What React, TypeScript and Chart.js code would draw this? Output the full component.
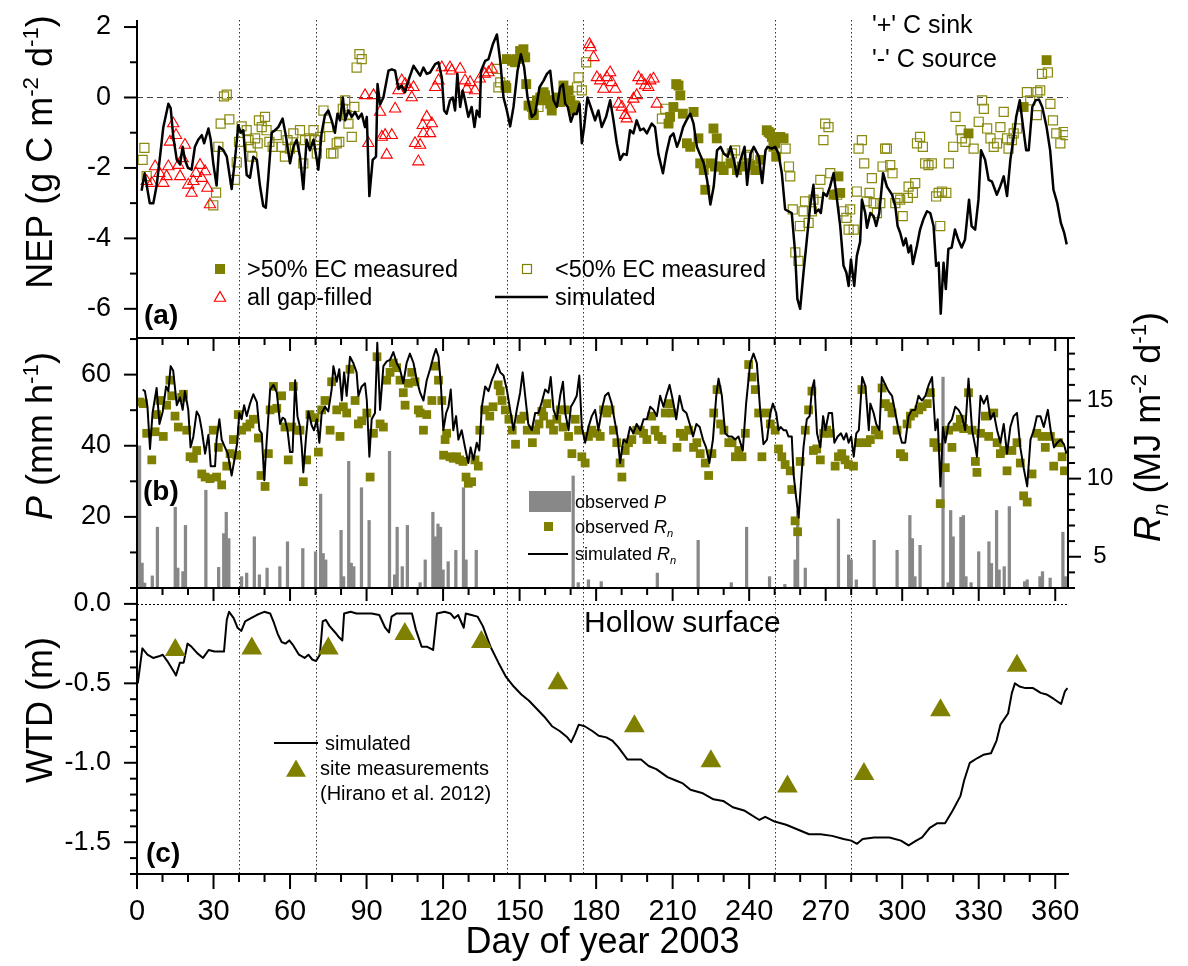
import React, { useEffect, useRef } from "react";
import { Chart, registerables } from "chart.js";

Chart.register(...registerables);

// ---------------- data: panel (a) NEP ----------------
const nepSimDay = [1.8,3,5,6.4,7.7,9,10.3,12.3,13.2,14.2,15.6,16.9,17.9,18.8,20,21.4,22.7,24,25.4,26.3,28,28.9,29.9,31.2,32.2,33.9,35.2,37.1,38.4,39.7,40.7,41.7,43,44.3,45.6,47,48.2,49.5,50.5,51.5,52.8,54.1,55.4,57.1,58.4,60,61.3,62.6,63.9,65.2,66.5,67.8,69.2,70.5,71.1,72.4,73.7,75,76.3,77.6,78.6,79.6,80.7,81.6,82.9,84.2,85.5,86.8,88.1,89.4,90.1,91.1,92.4,93.7,94.3,95.3,96.6,97.9,98.6,99.9,101.2,102.5,103.8,105.1,106.4,108.4,109.7,111,112.3,113.6,114.9,116.9,118.2,119.5,120.4,121.4,122.7,123.8,124.7,125.6,126.7,127.7,128.6,129.9,131.2,132.3,133.2,134.3,134.9,136.5,137.8,139.5,141.1,142.4,143.7,145,146.3,147.6,149.2,150.5,151.8,153.1,154.8,156.1,157.8,159.4,160.7,162,163.3,164.6,165.9,167,167.9,168.9,170.1,171.2,172.4,173.5,174.4,175.3,176.6,177.9,179.6,180.9,182.2,183.9,185.5,186.8,188.1,189.4,190.7,192,193.3,194.6,195.9,197.3,198.6,199.9,201.8,203.1,204.4,206.2,207.5,209,210.3,211.7,212.7,214.1,215.4,216.9,218.2,219.5,220.8,222.2,223.5,224.8,226.1,227.4,228.8,230.1,231.6,232.7,234,235.2,236.6,238.2,239.2,240.5,241.8,243.8,245.1,246.4,247.2,248.9,250.2,251.5,252.8,254.1,255.4,256.7,258,258.9,260,261.3,262.6,263.9,265.2,265.9,267.2,268.1,269.1,270.4,271.7,273.1,274.1,275.7,277,278.1,279,279.9,281.2,282.2,283.5,284.2,285.5,286.2,287.5,288.8,289.8,291,292.5,294,296,297.3,298.2,299.2,300.5,301.4,302.5,303.4,304.2,305.8,307,308.3,309.7,311,312.3,313.3,314.3,315.1,316.2,317.1,318.1,319.4,320.7,322,323.3,324.6,326.2,327.2,328.6,329.9,330.9,332.5,333.9,335.2,337.1,338.4,339.8,341.1,342.4,343.7,344.7,346.1,347.4,348.6,349.6,351,352.3,353.6,354.9,356.6,358,359.3,360.8,362.2,363.5,364.5];
const nepSimVal = [-2.65,-2.15,-3.0,-3.0,-2.5,-1.7,-0.85,-0.18,-0.3,-1.1,-1.77,-1.9,-1.4,-1.77,-2.0,-2.05,-1.4,-1.2,-1.07,-1.3,-0.88,-1.2,-1.87,-2.5,-1.4,-1.5,-1.68,-2.6,-1.77,-0.79,-1.0,-0.93,-2.2,-2.28,-1.68,-1.77,-2.5,-3.08,-3.13,-2.25,-1.0,-0.93,-0.84,-0.6,-1.1,-1.87,-1.4,-1.2,-1.68,-2.6,-1.2,-1.5,-1.2,-1.77,-2.05,-1.0,-0.5,-0.37,-0.65,-1.0,-0.46,-0.65,0,-0.65,-0.37,-0.55,-0.41,-0.6,-0.46,-0.84,-0.55,-2.8,-1.77,-1.68,0.38,-0.2,0.0,0.5,0.76,0.8,0.76,0.24,0.34,0.15,0.48,0.9,0.76,0.62,0.85,0.67,0.71,0.95,1.0,0.57,-0.37,-0.46,-0.08,0,-0.37,0.67,-0.27,0.2,-0.08,-0.55,-0.27,-0.84,-0.37,-0.55,0.76,1.04,1.09,1.51,1.79,1.04,0,-0.37,-0.82,-0.27,0.76,1.23,0.85,0,-0.55,-0.46,0.29,0.48,0.67,0.76,-0.08,-0.27,0.29,0.38,-0.18,-0.27,-0.69,-0.46,-0.46,-0.18,-1.3,-0.84,0,-0.27,-0.65,-0.37,-0.84,-0.55,-0.08,-0.65,-1.3,-1.77,-1.6,-1.63,-0.93,-1.02,-0.65,-0.93,-0.88,-1.02,-0.74,-0.84,-1.6,-2.15,-1.6,-1.12,-1.02,-1.4,-1.21,-0.84,-0.65,-0.46,-0.74,-1.4,-1.63,-1.87,-2.34,-3.04,-2.53,-1.5,-1.4,-1.6,-1.68,-1.4,-1.77,-2.24,-1.77,-1.4,-2.48,-1.6,-1.4,-1.68,-2.43,-1.5,-1.4,-1.45,-1.4,-1.6,-2.15,-3.18,-3.23,-3.28,-4.4,-5.72,-6.0,-4.97,-4.04,-3.09,-2.48,-3.28,-3.18,-3.28,-2.71,-2.8,-2.53,-2.15,-2.71,-3.65,-4.78,-4.97,-5.35,-4.6,-5.35,-4.5,-4.1,-2.9,-3.28,-3.7,-3.28,-3.37,-3.65,-3.28,-2.15,-2.53,-2.76,-3.09,-3.65,-3.84,-4.2,-4.0,-4.4,-4.2,-4.73,-4.2,-3.75,-3.46,-3.23,-3.28,-3.65,-4.78,-4.69,-6.14,-4.69,-5.44,-4.3,-4.26,-3.75,-4.04,-4.26,-4.04,-2.9,-3.65,-3.75,-2.9,-1.5,-1.77,-2.34,-2.39,-2.76,-2.53,-2.24,-2.8,-1.77,-1.12,-0.55,-0.08,-0.84,-1.5,-1.5,-0.27,-0.08,-0.06,-0.27,-0.84,-1.5,-2.62,-3.0,-3.56,-3.84,-4.17];

const ecHighDay = [144.4,144.8,145,147,148.2,148.9,150.2,150.9,151.5,152.2,152.6,153.5,154.8,155.5,156.8,158.1,159.4,160,160.7,162,162.6,164,165.2,165.9,167.2,167.9,169.2,169.9,170.9,171.8,208.4,209,210.3,211.4,212.3,213,214,215.6,216.9,218.2,220.1,220.8,222.2,222.8,224.8,226,226.6,227.3,228.7,230,232.7,235.2,237.1,240.4,242.4,244.3,246.9,247.6,248.2,248.9,249.5,250.2,250.6,250.9,252.2,253.5,273.1,275,275.7,326,347.6,356.6];
const ecHighVal = [0.34,0.27,1.09,1.04,1.0,1.09,1.32,1.18,1.37,1.14,0.38,-0.23,-0.27,-0.5,-0.08,0,0.15,0.06,-0.08,-0.18,-0.37,-0.08,0,-0.13,0.34,0.1,0.2,-0.08,-0.37,-0.23,-0.74,-0.55,-0.27,0.38,0.34,0.06,-0.46,-1.3,-1.4,-0.41,-1.16,-1.87,-2.06,-2.62,-1.87,-0.88,-1.96,-1.16,-1.96,-2.06,-1.87,-2.06,-1.96,-1.92,-2.06,-1.77,-0.93,-0.98,-1.02,-1.12,-1.4,-1.3,-1.68,-1.12,-1.12,-1.16,-2.76,-2.24,-2.71,-1.02,-0.27,1.06];

const ecLowDay = [2.2,2.9,3.8,29.9,31,31.9,32.8,34.1,35.2,36.2,38.4,39.1,40,41,43,43.7,44.6,45.2,46.3,47.3,47.8,48.9,50.2,50.8,51.9,53.2,54.8,56.7,58,59,60,61.3,61.9,63.9,65.2,65.9,67.6,69.2,69.8,70.5,71.8,73.1,75,76.1,77,78.3,79.3,80.7,81.6,82.2,82.9,84.2,85.2,86.1,87.2,88.1,141,141.7,142.4,155.4,157.4,171.1,172.5,173.1,174.4,176.1,205.8,207.1,231.2,233.2,234.5,238.4,239.1,239.8,254.3,255.6,256.1,257.1,258.1,259.3,259.9,261.3,261.9,263.3,264.6,265.2,267.2,267.9,269.1,269.8,271.1,271.8,274.5,277,278.1,279,279.6,281,282.2,282.9,284.2,285.1,286.1,287.2,288.1,288.8,290.1,291.4,292.3,293.3,294,295.3,296.2,297.3,298.2,299.2,300.2,302.2,302.5,304.2,305.1,305.8,307,308.1,309,310.3,311.6,313.3,314.3,314.9,315.6,317.3,318.3,320,320.9,322.9,323.4,324.8,328,330,331.3,332,333.3,334.6,335.9,337.2,338.5,339.8,341.1,341.7,343,343.7,345,348.9,350.2,352.8,353,354.1,354.8,357.1,358.1,359.1,360.4,362,363.3,364];
const ecLowVal = [-1.77,-1.43,-2.23,-3.06,-2.7,-1.4,-0.74,0.03,0.08,-0.62,-2.34,-1.84,-1.26,-0.82,-0.93,-1.21,-1.4,-1.68,-1.16,-1.3,-0.65,-0.84,-0.55,-0.93,-1.26,-1.4,-1.07,-1.4,-1.68,-1.21,-1.45,-1.02,-1.4,-0.93,-1.87,-1.21,-1.16,-0.93,-1.21,-1.59,-1.12,-0.37,-0.84,-1.59,-1.59,-1.3,-1.26,-0.32,-0.08,-0.5,-0.74,-1.12,-0.27,0.85,1.23,1.09,0.81,0.29,0.43,-0.46,-0.27,-0.23,0.29,0.57,0.2,1.0,-0.6,-0.32,-1.73,-1.59,-1.5,-1.87,-1.68,-1.63,-1.45,-1.96,-2.24,-3.18,-4.4,-4.64,-3.65,-3.23,-2.95,-3.56,-3.23,-2.9,-2.71,-2.34,-1.21,-0.74,-0.84,-2.15,-2.76,-3.23,-3.42,-3.75,-3.18,-3.75,-2.67,-1.45,-1.21,-1.87,-2.95,-2.71,-2.29,-3.0,-3.28,-3.0,-1.96,-1.45,-1.45,-1.92,-2.15,-3.0,-2.85,-2.9,-3.37,-2.85,-2.53,-2.71,-2.43,-1.3,-1.12,-1.4,-1.87,-1.92,-1.87,-2.81,-2.71,-3.65,-2.67,-2.71,-1.87,-1.4,-0.55,-0.93,-1.16,-1.26,-1.45,-0.69,-0.08,-0.32,-0.88,-1.16,-1.4,-1.3,-0.84,-0.41,-1.16,-1.45,-1.21,-1.02,-0.88,0.15,-0.08,-0.5,0.15,0.2,0.67,0.71,-0.18,-0.65,-1.02,-1.3,-0.98,-1.07];

const gapDay = [3.8,5.8,7.1,8.8,10.3,11.6,12.3,12.9,14.2,15.3,16.2,16.9,17.9,18.8,20.1,21.4,22.1,23.1,24.7,25.4,26.7,27.6,28.6,89.4,90.7,92.7,95.3,96,97.3,97.9,99.9,101.2,102.5,103.8,105.1,106.4,107.7,108.4,109,110.3,111,112,112.3,113.6,114.9,115.6,116.9,118.2,119.5,122.7,123.4,126.7,128.6,129.3,130.6,132.5,134.4,136.3,137.8,139.1,177.4,177.9,179,180.3,181.6,182.9,184.2,185.5,186.1,187.5,188.8,190.1,191.4,192,193.3,194.6,195.9,196.6,197.9,199.2,200.5,201.2,202.5,203.8];
const gapVal = [-2.38,-2.43,-1.96,-2.15,-2.43,-2.24,-1.96,-1.26,-0.74,-1.07,-1.92,-2.24,-1.73,-1.35,-2.48,-2.71,-2.38,-2.15,-1.92,-2.29,-2.1,-2.57,-3.04,0.06,-1.3,0.06,-0.41,-1.12,-1.07,-1.63,-1.07,-0.32,0.2,0.48,0.38,0.29,0,0.29,-1.3,-1.82,-1.35,-0.79,-1.02,-0.55,-1.02,-0.74,0.29,0.48,0.85,0.85,0.76,0.81,0.48,0.24,0.43,0.2,0.53,0.67,0.71,0.81,1.51,1.42,1.14,0.57,0.48,0.24,0.57,0.71,0.43,0.24,-0.18,-0.27,-0.5,-0.6,-0.32,-0.04,0.06,0.57,0.48,0.34,0.29,0.48,0.53,-0.18];

// ---------------- data: panel (b) P and Rn ----------------
const precipDay = [1,2,3,6,8,15,16,18,19,27,32,34,35,36,41,43,46,48,51,56,59,65,70,72,73,74,80,81,83,84,85,88,91,99,101,102,104,106,111,113,116,117,118,119,120,122,125,128,129,133,171,173,177,182,204,220,233,239,248,254,258,259,262,275,279,280,282,289,298,303,304,305,307,316,318,319,320,323,324,325,327,330,334,335,337,338,340,342,348,349,354,355,358,363,364];
const precipVal = [40,7,1.4,3.4,17.1,22.7,5.6,4.6,17.6,27.5,5.8,15.3,21.3,13.9,3.2,4.2,14.4,3.7,5.6,6,13,11.1,10.2,26.4,9.7,7.9,16.2,3.2,35.6,7,6,28.2,19,38.4,3.7,17.1,6,17.6,1.5,7.9,21.3,14.4,18,17.1,5.1,7.4,10.6,28.2,7.9,10.6,31.5,1.5,2.3,1.8,4.2,13.4,1.5,17.1,3.2,1,7.9,21.8,5.6,19.4,9.3,7.9,2.3,13.4,10.6,20.4,13.9,3.2,12,59.3,1.5,21.8,14.4,19.9,20.4,3.2,1.5,10.2,13,6.9,21.8,5.1,6,22.9,1.8,2.3,3.2,4.6,2.8,15.7,3.2];

const rnSimDay = [2.2,3.1,4.1,5.1,6.1,7.7,8.8,10.1,11.4,12.3,13.2,14.2,15.6,16.9,17.9,18.8,20.1,21,22.1,23.4,24.4,25.4,26.7,28,28.9,30.6,31.2,32.3,33.2,34.5,35.6,37.1,38.4,39.3,40.1,41,42,43,44.3,45.6,47,48,48.9,49.9,50.8,52.2,53.5,54.8,56.1,57.1,58,59,60,61,62,62.9,63.9,64.6,65.2,66.3,67.2,68.5,69.4,70.5,71.5,72.4,73.7,75,76.3,77,78.3,79.3,80.3,81.2,82.2,83.5,84.8,86.1,86.8,88.1,89.4,90.1,91.1,92,93.3,94.2,95.3,96.6,97.9,99.2,100.5,101.8,103.1,104.4,105.7,107,108.4,109.7,111,112.3,113.6,114.9,116.2,117.2,118.2,119.1,120.1,121.2,122.1,123,124,125.1,126,127.3,128.6,129.9,130.8,131.9,133.2,134.2,135.2,136.5,137.8,139.1,140.4,141.3,142.4,143.7,145,146.5,147.6,148.9,150.2,151.2,152.2,153.4,154.8,156.1,157.4,158.7,160,161.3,162.2,163.3,164.6,165.9,167,167.9,169.2,170.1,171.2,172.4,173.4,174.4,175.7,177,178.3,179.6,180.9,182.2,183.5,184.8,186.1,187.5,188.4,189.4,190.7,192,193.3,194.6,195.9,197.3,198.6,199.9,201.2,202.5,203.8,205.1,206.4,207.5,208.8,210.1,211.4,212.7,214,215.4,216.7,218,219.3,220.6,221.9,223.1,224.4,225.8,227.1,228,229.3,230.6,231.9,233.2,234.5,235.8,237.5,238.8,240.4,241.7,243,244.3,245.6,247,248.3,249.3,250.6,251.5,252.4,253.5,254.5,255.4,256.7,257.4,258.4,259.4,260.3,261.3,262.6,263.7,264.6,265.5,266.6,267.9,269,269.9,271.2,272.5,273.4,274.7,276,277.1,278.1,279,280,281,282,283,284.3,285.6,286.9,287.5,288.8,289.8,291.1,292,293.4,294.6,296,297.3,298.6,299.9,301.2,302.5,303.8,305.1,306.4,307.7,309.1,310.4,311.7,313,313.9,315,316,316.9,318.2,319.5,320.8,322.1,323.4,324.7,326,327.4,328.7,329.3,330.7,332,333.3,334.6,335.9,337.2,338.5,339.8,341.1,342.4,343.7,345,346.3,347.6,349,350.3,351.6,352.8,354.2,355.5,357.1,358.2,359.5,360.8,362.1,363.4,364.4];
const rnSimVal = [15.7,15.6,14.6,11.9,14.2,15.8,13.5,14.3,15.9,15.6,17.2,16.9,14.7,15.2,14.4,15.6,14.4,12.0,12.7,14.3,14.0,13.1,11.6,12.8,10.8,10.8,12.5,13.8,12.5,12.0,11.6,10.2,11.4,12.3,14.2,13.8,14.7,14.0,14.8,15.4,14.9,13.1,12.9,9.9,12.3,15.7,16.0,15.5,13.5,13.9,13.8,13.1,11.7,11.7,16.3,14.0,13.3,12.0,10.4,12.7,14.3,13.4,13.1,13.8,12.3,14.2,14.6,14.3,15.7,17.2,16.2,17.0,15.0,16.8,15.3,17.8,17.4,16.8,15.3,15.9,16.1,15.0,11.4,13.8,14.2,18.7,14.4,17.2,17.5,17.6,18.1,17.4,17.0,16.1,17.4,18.0,17.4,16.3,15.5,15.0,16.3,17.0,17.8,18.3,17.8,16.1,13.1,14.2,14.6,15.7,13.1,14.0,12.5,13.1,12.0,11.0,12.0,11.2,12.3,11.8,14.6,15.9,15.6,16.3,16.8,17.3,16.8,16.6,15.7,14.2,13.1,14.4,15.5,16.8,15.3,13.5,13.1,14.2,14.2,14.9,15.7,15.5,16.5,14.4,13.8,15.3,16.2,14.2,13.1,14.6,14.9,15.3,16.6,13.3,12.3,13.3,14.0,14.4,13.1,14.4,15.3,15.5,14.8,13.5,12.7,11.0,12.5,12.3,13.3,12.9,13.5,13.1,13.8,13.8,14.6,14.4,14.0,15.3,14.6,15.3,16.0,15.0,13.8,15.3,14.4,14.2,13.5,12.7,13.5,13.3,12.5,12.0,11.0,12.5,15.3,16.4,15.3,12.9,12.7,12.7,12.5,12.7,11.8,14.8,17.4,18.0,17.4,14.4,12.2,12.5,14.2,14.8,14.2,13.1,13.3,13.1,13.1,12.7,12.7,10.3,8.8,7.5,9.7,12.0,13.8,14.0,15.7,16.3,12.9,12.0,14.0,13.1,14.2,14.2,12.3,12.7,12.9,12.5,12.9,12.3,12.7,11.4,12.9,13.1,16.5,15.9,13.1,14.8,14.2,13.5,13.1,16.5,16.0,15.6,15.3,14.2,13.1,12.3,12.3,14.0,14.4,14.4,15.3,15.0,15.3,16.0,16.5,13.1,13.8,9.5,13.3,12.3,13.5,13.8,14.6,14.4,14.0,13.1,16.4,13.1,12.0,11.4,15.3,14.8,15.3,13.8,14.2,13.1,12.3,13.5,11.6,13.3,14.0,14.2,12.0,10.7,9.5,12.5,13.1,14.0,14.0,13.3,14.4,13.1,12.0,12.3,12.5,12.2,11.6];

const rnObsDay = [1.2,2.5,3.8,5.8,7.1,7.7,9,10.3,11.6,12.9,13.6,14.9,16.2,17.5,18.2,19.5,20.8,22.1,23.4,25.4,26.7,28.6,29.9,31.2,31.9,33.2,35.2,36.5,37.8,39.1,39.7,41,43,44.3,45.6,47.6,48.6,50.2,51.5,52.2,53.5,54.8,56.7,58,59.3,60.7,61.3,62.6,63.9,65.2,66.5,67.8,69.8,71.1,72.4,73.7,75.7,76.3,78.3,79.6,80.9,82.2,83.5,85.5,86.8,88.1,90.1,91.4,92.7,94.1,95.3,96.6,97.9,99.2,100.5,101.8,103.1,104.4,105.1,106.4,107.7,109,110.3,111,112.3,113.6,115.6,116.9,118.2,119.5,120.2,120.8,121.4,122.7,124,125.3,126.5,127.8,129,129.9,131.2,132.5,133.8,134.4,136.3,138.3,139.6,141.6,142.4,143.1,144.4,145.8,147.1,148.4,150.4,151.7,153,155,156.3,157.6,158.7,159.4,160.7,162,163.3,164.6,165.9,167,167.9,169.2,170.5,171.8,173.1,174.4,175.7,177,178.3,180.3,181.6,182.9,184.2,185.5,186.8,188.1,189.4,190.1,191.4,192.7,194,195.9,197.3,198.6,199.9,201.8,203.1,204.4,205.8,207.1,208.4,209.7,211.7,213,214.3,216.3,218.2,219.5,220.8,222.8,224.1,225.4,226.1,227.4,228.8,230.1,232,233.3,234.6,235.9,237.2,238.5,239.8,241.1,242.4,243.7,245,247,248.3,250.2,251.5,252.8,254.1,256.1,256.7,258,259,260,262,263.3,264.6,265.2,266.5,267.9,269.2,270.4,271.7,273.7,275,276.3,277.6,278.9,280.9,282.9,284.2,286.2,287.5,289.5,290.8,292.1,293.4,294.7,296,298,299.3,300.6,301.9,303.2,304.6,306.5,307.8,309.8,311.1,312.4,313.7,314.9,316.9,318.2,319.5,321.5,322.8,324.1,326,327.4,328.7,329.3,330.7,332.6,333.9,335.9,337.2,338.5,339.8,341.1,343,345,346.3,347.6,349,350.9,352.8,354.8,356.1,358.1,359.4,361.3,362.7,363.6];
const rnObsVal = [14.9,14.8,12.9,11.2,13.0,14.1,15.0,12.7,14.7,16.3,15.3,14.0,13.3,15.2,15.4,13.1,11.4,11.3,11.8,10.3,10.1,10.0,13.1,10.1,12.0,9.6,10.8,11.6,12.5,11.5,14.1,13.1,13.3,13.5,13.8,12.6,10.2,9.5,11.6,14.4,15.9,14.5,15.3,13.3,11.2,13.3,15.9,13.1,13.1,9.8,11.2,14.1,13.9,11.7,14.4,15.0,13.1,16.2,14.4,12.7,14.6,14.2,17.0,15.0,13.5,13.7,14.2,10.1,12.9,17.8,13.5,13.3,16.3,16.8,17.4,17.1,16.3,15.5,14.7,16.1,16.8,16.2,14.4,14.2,13.1,14.1,15.0,17.2,16.3,15.0,11.5,12.5,12.9,11.4,11.3,11.4,11.2,11.1,10.1,9.7,9.8,11.2,10.8,13.1,14.4,14.0,14.6,16.0,15.6,15.0,14.4,13.8,13.1,12.2,13.8,14.0,13.1,12.3,13.1,13.5,14.3,14.0,14.8,13.5,13.1,13.8,14.4,13.3,14.4,12.7,11.6,13.8,13.1,11.4,11.0,12.7,13.1,12.9,12.7,14.4,14.2,14.4,13.1,12.3,11.0,10.1,11.8,12.3,12.5,13.1,13.1,12.9,12.5,14.0,13.1,12.7,12.5,14.2,14.8,14.2,12.0,12.9,12.7,13.1,12.0,12.3,11.6,11.0,10.2,11.6,14.2,15.7,13.5,13.1,12.3,12.3,11.4,11.8,11.4,12.9,17.3,16.5,15.7,14.2,11.4,14.2,13.5,13.1,11.9,11.4,10.9,10.5,9.3,7.3,6.6,11.1,13.1,14.4,15.6,11.8,11.9,11.2,12.9,13.1,12.9,10.8,11.4,11.6,11.2,10.9,10.8,12.3,15.7,12.3,12.5,13.1,12.8,15.8,14.8,14.6,14.2,13.1,11.6,11.4,13.5,14.0,14.2,14.4,14.6,14.8,15.5,12.3,12.0,8.4,10.7,13.1,12.0,13.3,13.8,13.2,15.5,13.1,11.1,10.4,12.9,14.0,12.7,14.2,12.3,11.6,11.8,10.5,11.8,12.3,11.0,8.9,8.5,10.3,12.9,12.7,12.0,12.7,10.8,12.3,11.4,10.5];

// ---------------- data: panel (c) WTD ----------------
const wtdSimDay = [0.3,2.1,4.1,6.3,8.6,10.1,12.3,14.6,15.3,16.8,18.3,19.8,21.4,23.6,25.9,28.1,30.4,34.1,35.2,36.1,37.9,39.4,40.9,42.4,44.7,46.9,48.4,49.9,52.2,53.7,55.2,56.7,58.2,59.7,61.2,63.5,65.7,67.2,68.7,70.2,71.7,72.8,74,75.5,77.7,79.2,80.5,81.2,83.8,86,89,92,95,97.3,98.8,99.8,101.8,105.6,107.8,109.3,111.6,113.8,116.1,117.6,120.6,122.9,124.4,125.9,128.1,128.9,131.1,133.5,135.6,138.6,141.7,144.7,147.7,150.7,153.7,156.7,159.7,162.7,165.7,168.7,170.2,171.7,173.2,175.5,178.5,181,184,186.3,188.6,192.3,197.6,200.6,203.6,208,211,214,217,221.5,226,229.8,233.6,238,244,246.3,250,254.5,259,263.5,268,272.5,277,280,282.3,284.5,289,295,299.5,302.5,305.5,307.8,310.8,313.8,316.8,319.8,322.8,324.3,326.5,329.5,331.8,334.8,337,338.5,341.5,343,344.2,346,348.3,351.3,354.3,356.6,359.6,362.3,363.8,364.8];
const wtdSimVal = [-0.5,-0.28,-0.32,-0.34,-0.33,-0.32,-0.37,-0.43,-0.45,-0.37,-0.37,-0.25,-0.27,-0.31,-0.34,-0.29,-0.3,-0.3,-0.1,-0.05,-0.09,-0.15,-0.17,-0.11,-0.09,-0.07,-0.06,-0.05,-0.06,-0.12,-0.19,-0.24,-0.25,-0.23,-0.26,-0.32,-0.34,-0.32,-0.35,-0.36,-0.32,-0.11,-0.1,-0.14,-0.18,-0.21,-0.23,-0.06,-0.05,-0.06,-0.06,-0.06,-0.07,-0.15,-0.18,-0.08,-0.06,-0.06,-0.06,-0.16,-0.27,-0.27,-0.29,-0.06,-0.05,-0.06,-0.09,-0.07,-0.15,-0.06,-0.07,-0.08,-0.14,-0.27,-0.37,-0.46,-0.52,-0.57,-0.61,-0.66,-0.71,-0.77,-0.8,-0.84,-0.87,-0.82,-0.76,-0.77,-0.8,-0.83,-0.84,-0.86,-0.9,-0.98,-0.98,-1.02,-1.04,-1.09,-1.11,-1.13,-1.17,-1.19,-1.23,-1.24,-1.28,-1.3,-1.36,-1.34,-1.37,-1.39,-1.42,-1.45,-1.45,-1.46,-1.48,-1.49,-1.51,-1.48,-1.47,-1.47,-1.49,-1.52,-1.49,-1.47,-1.41,-1.38,-1.38,-1.3,-1.21,-1.11,-1.0,-0.97,-0.95,-0.94,-0.86,-0.76,-0.69,-0.56,-0.5,-0.52,-0.53,-0.53,-0.56,-0.57,-0.6,-0.63,-0.55,-0.53];
const wtdObsDay = [15, 45, 75, 105, 135, 165, 195, 225, 255, 285, 315, 345];
const wtdObsVal = [-0.29, -0.28, -0.28, -0.19, -0.24, -0.5, -0.77, -0.99, -1.15, -1.07, -0.67, -0.39];

// ---------------- axes / ticks ----------------
const dividerDays = [40, 70, 145, 175, 250, 280];
const dayTickLabels = [0, 30, 60, 90, 120, 150, 180, 210, 240, 270, 300, 330, 360];
const nepTickLabels = [2, 0, -2, -4, -6];
const pTickLabels = [20, 40, 60];
const rnTickLabels = [5, 10, 15];
const wtdTickLabels = [0, -0.5, -1.0, -1.5];

// ---------------- layout ----------------
const W = 1188;
const H = 966;
const PLOT_L = 137;
const PLOT_R = 1068;
const A_TOP = 20, A_BOT = 337;
const B_TOP = 338, B_BOT = 588;
const C_TOP = 588, C_BOT = 874;
const FONT = '"Liberation Sans", Arial, Helvetica, sans-serif';
const OLIVE = "#808000";

const pts = (xs: number[], ys: number[]) => xs.map((x, i) => ({ x, y: ys[i] }));

type Seg = { t: string; it?: boolean; b?: boolean; sup?: boolean; sub?: boolean };
const font = (size: number, it = false, b = false) =>
  `${it ? "italic " : ""}${b ? "bold " : ""}${size}px ${FONT}`;

function richWidth(ctx: CanvasRenderingContext2D, segs: Seg[], size: number) {
  let w = 0;
  for (const s of segs) {
    ctx.font = font(s.sup || s.sub ? size * 0.62 : size, s.it, s.b);
    w += ctx.measureText(s.t).width;
  }
  return w;
}
function drawRich(ctx: CanvasRenderingContext2D, segs: Seg[], x: number, y: number, size: number, align = "left") {
  ctx.save();
  ctx.fillStyle = "#000";
  ctx.textAlign = "left";
  ctx.textBaseline = "alphabetic";
  let cx = align === "center" ? x - richWidth(ctx, segs, size) / 2 : x;
  for (const s of segs) {
    const sz = s.sup || s.sub ? size * 0.62 : size;
    ctx.font = font(sz, s.it, s.b);
    const dy = s.sup ? -size * 0.38 : s.sub ? size * 0.22 : 0;
    ctx.fillText(s.t, cx, y + dy);
    cx += ctx.measureText(s.t).width;
  }
  ctx.restore();
}
function drawVertical(ctx: CanvasRenderingContext2D, segs: Seg[], baseX: number, centerY: number, size: number) {
  ctx.save();
  ctx.translate(baseX, centerY);
  ctx.rotate(-Math.PI / 2);
  drawRich(ctx, segs, 0, 0, size, "center");
  ctx.restore();
}
function line(ctx: CanvasRenderingContext2D, x1: number, y1: number, x2: number, y2: number) {
  ctx.beginPath();
  ctx.moveTo(x1, y1);
  ctx.lineTo(x2, y2);
  ctx.stroke();
}
function triPath(ctx: CanvasRenderingContext2D, x: number, y: number, r: number) {
  ctx.beginPath();
  ctx.moveTo(x, y - r);
  ctx.lineTo(x + 0.866 * r, y + 0.5 * r);
  ctx.lineTo(x - 0.866 * r, y + 0.5 * r);
  ctx.closePath();
}
function dividers(chart: any) {
  const { ctx, chartArea: ca, scales } = chart;
  ctx.save();
  ctx.strokeStyle = "#333";
  ctx.lineWidth = 1;
  ctx.setLineDash([1.5, 2.5]);
  for (const d of dividerDays) {
    const px = Math.round(scales.x.getPixelForValue(d)) + 0.5;
    line(ctx, px, ca.top, px, ca.bottom);
  }
  ctx.restore();
}
function xTicks(ctx: CanvasRenderingContext2D, xs: any, y: number, major: number, minor: number) {
  for (let d = 0; d <= 360; d += 10) {
    const px = xs.getPixelForValue(d);
    line(ctx, px, y, px, y + (d % 30 === 0 ? major : minor));
  }
}

function baseOptions(top: number, bottom: number, yScales: any) {
  return {
    responsive: false,
    animation: false,
    events: [],
    layout: { padding: { left: PLOT_L, right: W - PLOT_R, top, bottom: H - bottom } },
    plugins: { legend: { display: false }, tooltip: { enabled: false } },
    scales: {
      x: { type: "linear", min: 0, max: 365, offset: false, display: false, grid: { offset: false } },
      ...yScales,
    },
  };
}

// ---------------- panel (a) ----------------
function buildA(canvas: HTMLCanvasElement) {
  const plugin = {
    id: "panelA",
    beforeDatasetsDraw(chart: any) {
      const { ctx, chartArea: ca, scales } = chart;
      dividers(chart);
      ctx.save();
      ctx.strokeStyle = "#444";
      ctx.lineWidth = 1.2;
      ctx.setLineDash([6, 4]);
      const y0 = scales.y.getPixelForValue(0);
      line(ctx, ca.left, y0, ca.right, y0);
      ctx.restore();
    },
    afterDatasetsDraw(chart: any) {
      const { ctx, chartArea: ca, scales } = chart;
      const ys = scales.y;
      ctx.save();
      ctx.strokeStyle = "#000";
      ctx.lineWidth = 2;
      line(ctx, ca.left, ca.top, ca.left, ca.bottom + 1);
      for (let v = -6; v <= 2; v++) {
        const py = ys.getPixelForValue(v);
        line(ctx, ca.left, py, ca.left - (v % 2 === 0 ? 13 : 7), py);
      }
      ctx.fillStyle = "#000";
      ctx.font = font(27);
      ctx.textAlign = "right";
      ctx.textBaseline = "middle";
      for (const v of nepTickLabels) ctx.fillText(String(v), ca.left - 26, ys.getPixelForValue(v));

      drawVertical(ctx, [{ t: "NEP (g C m" }, { t: "-2", sup: true }, { t: " d" }, { t: "-1", sup: true }, { t: ")" }], 52, 152, 36);

      // annotations
      drawRich(ctx, [{ t: "'+' C sink" }], 872, 33, 25);
      drawRich(ctx, [{ t: "'-' C source" }], 872, 67, 25);
      drawRich(ctx, [{ t: "(a)", b: true }], 144, 324, 28);

      // legend
      ctx.fillStyle = OLIVE;
      ctx.fillRect(215, 264, 10, 10);
      ctx.strokeStyle = OLIVE;
      ctx.lineWidth = 1.2;
      ctx.strokeRect(522.5, 264.5, 9, 9);
      ctx.strokeStyle = "#ff0000";
      triPath(ctx, 220, 298, 6.5);
      ctx.stroke();
      ctx.strokeStyle = "#000";
      ctx.lineWidth = 2.5;
      line(ctx, 495, 297, 548, 297);
      drawRich(ctx, [{ t: ">50% EC measured" }], 247, 277, 23.5);
      drawRich(ctx, [{ t: "all gap-filled" }], 247, 305, 23.5);
      drawRich(ctx, [{ t: "<50% EC measured" }], 555, 277, 23.5);
      drawRich(ctx, [{ t: "simulated" }], 555, 305, 23.5);
      ctx.restore();
    },
  };
  return new Chart(canvas, {
    type: "scatter",
    data: {
      datasets: [
        {
          type: "line",
          data: pts(nepSimDay, nepSimVal),
          borderColor: "#000",
          borderWidth: 2.5,
          borderJoinStyle: "round",
          pointRadius: 0,
          tension: 0,
          fill: false,
          order: 0,
        },
        {
          data: pts(ecLowDay, ecLowVal),
          pointStyle: "rect",
          pointRadius: 6.4,
          pointBackgroundColor: "rgba(0,0,0,0)",
          pointBorderColor: "#8a8a10",
          pointBorderWidth: 1.2,
          order: 3,
        },
        {
          data: pts(gapDay, gapVal),
          pointStyle: "triangle",
          pointRadius: 6.5,
          pointBackgroundColor: "rgba(0,0,0,0)",
          pointBorderColor: "#ff0000",
          pointBorderWidth: 1.1,
          order: 2,
        },
        {
          data: pts(ecHighDay, ecHighVal),
          pointStyle: "rect",
          pointRadius: 7,
          pointBackgroundColor: OLIVE,
          pointBorderColor: OLIVE,
          pointBorderWidth: 0,
          order: 1,
        },
      ],
    },
    options: baseOptions(A_TOP, A_BOT, { y: { type: "linear", min: -6.8, max: 2.2, display: false } }) as any,
    plugins: [plugin],
  } as any);
}

// ---------------- panel (b) ----------------
function buildB(canvas: HTMLCanvasElement) {
  const plugin = {
    id: "panelB",
    beforeDatasetsDraw(chart: any) {
      dividers(chart);
    },
    afterDatasetsDraw(chart: any) {
      const { ctx, chartArea: ca, scales } = chart;
      const yp = scales.yP;
      const yr = scales.yR;
      ctx.save();
      ctx.strokeStyle = "#000";
      ctx.lineWidth = 2;
      line(ctx, ca.left - 1, ca.top, ca.right + 1, ca.top);
      xTicks(ctx, scales.x, ca.top, 13, 7);
      line(ctx, ca.left, ca.top, ca.left, ca.bottom);
      line(ctx, ca.right, ca.top, ca.right, ca.bottom);
      for (let v = 0; v <= 70; v += 10) {
        const py = yp.getPixelForValue(v);
        line(ctx, ca.left, py, ca.left - (v % 20 === 0 && v > 0 ? 13 : 7), py);
      }
      for (let v = 3; v <= 19; v++) {
        const py = yr.getPixelForValue(v);
        line(ctx, ca.right, py, ca.right + (v % 5 === 0 ? 13 : 7), py);
      }
      ctx.fillStyle = "#000";
      ctx.font = font(27);
      ctx.textAlign = "right";
      ctx.textBaseline = "middle";
      for (const v of pTickLabels) ctx.fillText(String(v), ca.left - 26, yp.getPixelForValue(v));
      ctx.font = font(24);
      ctx.textAlign = "center";
      for (const v of rnTickLabels) ctx.fillText(String(v), ca.right + 32, yr.getPixelForValue(v));

      drawVertical(ctx, [{ t: "P", it: true }, { t: " (mm h" }, { t: "-1", sup: true }, { t: ")" }], 52, 436, 36);
      drawVertical(ctx, [{ t: "R", it: true }, { t: "n", it: true, sub: true }, { t: " (MJ m" }, { t: "-2", sup: true }, { t: " d" }, { t: "-1", sup: true }, { t: ")" }], 1160, 427, 36);
      drawRich(ctx, [{ t: "(b)", b: true }], 143, 500, 28);

      // legend
      ctx.fillStyle = "#888";
      ctx.fillRect(529, 491, 42, 21);
      ctx.fillStyle = OLIVE;
      ctx.fillRect(544, 522, 9, 9);
      ctx.strokeStyle = "#000";
      ctx.lineWidth = 2;
      line(ctx, 528, 554, 568, 554);
      drawRich(ctx, [{ t: "observed " }, { t: "P", it: true }], 575, 508, 18);
      drawRich(ctx, [{ t: "observed " }, { t: "R", it: true }, { t: "n", it: true, sub: true }], 575, 533, 18);
      drawRich(ctx, [{ t: "simulated " }, { t: "R", it: true }, { t: "n", it: true, sub: true }], 575, 560, 18);
      ctx.restore();
    },
  };
  return new Chart(canvas, {
    type: "scatter",
    data: {
      datasets: [
        {
          type: "line",
          data: pts(rnSimDay, rnSimVal),
          yAxisID: "yR",
          borderColor: "#000",
          borderWidth: 2,
          borderJoinStyle: "round",
          pointRadius: 0,
          tension: 0,
          fill: false,
          order: 0,
        },
        {
          data: pts(rnObsDay, rnObsVal),
          yAxisID: "yR",
          pointStyle: "rect",
          pointRadius: 6.2,
          pointBackgroundColor: OLIVE,
          pointBorderColor: OLIVE,
          pointBorderWidth: 0,
          order: 1,
        },
        {
          type: "bar",
          data: pts(precipDay, precipVal),
          yAxisID: "yP",
          backgroundColor: "#888888",
          borderWidth: 0,
          barThickness: 2.6,
          grouped: false,
          order: 2,
        },
      ],
    },
    options: baseOptions(B_TOP, B_BOT, {
      yP: { type: "linear", min: 0, max: 70.3, display: false },
      yR: { type: "linear", min: 3, max: 19, display: false },
    }) as any,
    plugins: [plugin],
  } as any);
}

// ---------------- panel (c) ----------------
function buildC(canvas: HTMLCanvasElement) {
  const plugin = {
    id: "panelC",
    beforeDatasetsDraw(chart: any) {
      const { ctx, chartArea: ca, scales } = chart;
      dividers(chart);
      ctx.save();
      ctx.strokeStyle = "#000";
      ctx.lineWidth = 1;
      ctx.setLineDash([2, 2]);
      const y0 = Math.round(scales.y.getPixelForValue(0)) + 0.5;
      line(ctx, ca.left, y0, ca.right, y0);
      ctx.restore();
    },
    afterDatasetsDraw(chart: any) {
      const { ctx, chartArea: ca, scales } = chart;
      const ys = scales.y;
      const xs = scales.x;
      ctx.save();
      ctx.strokeStyle = "#000";
      ctx.lineWidth = 2;
      line(ctx, ca.left - 1, ca.top, ca.right + 1, ca.top);
      xTicks(ctx, xs, ca.top, 13, 7);
      line(ctx, ca.left - 1, ca.bottom, ca.right + 1, ca.bottom);
      xTicks(ctx, xs, ca.bottom, 15, 8);
      line(ctx, ca.left, ca.top, ca.left, ca.bottom);
      for (let k = -17; k <= 1; k++) {
        const py = ys.getPixelForValue(k / 10);
        line(ctx, ca.left, py, ca.left - (k % 5 === 0 ? 13 : 7), py);
      }
      ctx.fillStyle = "#000";
      ctx.font = font(27);
      ctx.textAlign = "right";
      ctx.textBaseline = "middle";
      for (const v of wtdTickLabels) ctx.fillText(v.toFixed(1), ca.left - 26, ys.getPixelForValue(v));
      ctx.font = font(29);
      ctx.textAlign = "center";
      for (const d of dayTickLabels) ctx.fillText(String(d), xs.getPixelForValue(d), 912);

      drawVertical(ctx, [{ t: "WTD (m)" }], 52, 710, 36);
      drawRich(ctx, [{ t: "Day of year 2003" }], (ca.left + ca.right) / 2, 953, 36, "center");
      drawRich(ctx, [{ t: "Hollow surface" }], 584, 632, 30);
      drawRich(ctx, [{ t: "(c)", b: true }], 146, 862, 28);

      // legend
      ctx.strokeStyle = "#000";
      ctx.lineWidth = 2;
      line(ctx, 274, 743, 318, 743);
      ctx.fillStyle = OLIVE;
      triPath(ctx, 296, 771, 11.5);
      ctx.fill();
      drawRich(ctx, [{ t: "simulated" }], 325, 750, 20);
      drawRich(ctx, [{ t: "site measurements" }], 320, 775, 20);
      drawRich(ctx, [{ t: "(Hirano et al. 2012)" }], 320, 800, 20);
      ctx.restore();
    },
  };
  return new Chart(canvas, {
    type: "scatter",
    data: {
      datasets: [
        {
          type: "line",
          data: pts(wtdSimDay, wtdSimVal),
          borderColor: "#000",
          borderWidth: 2,
          borderJoinStyle: "round",
          pointRadius: 0,
          tension: 0,
          fill: false,
          order: 1,
        },
        {
          data: pts(wtdObsDay, wtdObsVal),
          pointStyle: "triangle",
          pointRadius: 12,
          pointBackgroundColor: OLIVE,
          pointBorderColor: OLIVE,
          pointBorderWidth: 0,
          order: 0,
        },
      ],
    },
    options: baseOptions(C_TOP, C_BOT, { y: { type: "linear", min: -1.7, max: 0.1, display: false } }) as any,
    plugins: [plugin],
  } as any);
}

export default function App() {
  const refA = useRef<HTMLCanvasElement>(null);
  const refB = useRef<HTMLCanvasElement>(null);
  const refC = useRef<HTMLCanvasElement>(null);

  useEffect(() => {
    const charts = [buildA(refA.current!), buildB(refB.current!), buildC(refC.current!)];
    return () => charts.forEach((c) => c.destroy());
  }, []);

  const cs: React.CSSProperties = { position: "absolute", left: 0, top: 0, width: W, height: H };
  return (
    <div style={{ position: "absolute", left: 0, top: 0, width: W, height: H, background: "#fff" }}>
      <canvas ref={refA} width={W} height={H} style={cs} />
      <canvas ref={refB} width={W} height={H} style={cs} />
      <canvas ref={refC} width={W} height={H} style={cs} />
    </div>
  );
}
